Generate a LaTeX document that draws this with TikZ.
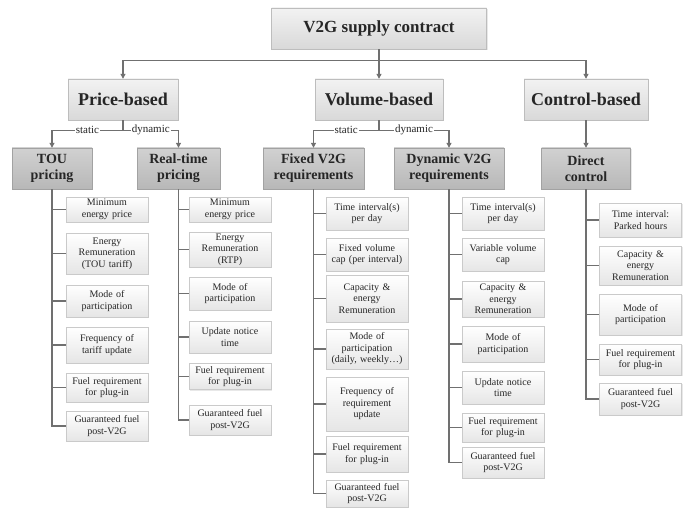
\documentclass[tikz,border=0pt]{standalone}
\usepackage{fontspec}
\setmainfont{Liberation Serif}
\usetikzlibrary{shadows,arrows.meta}

\definecolor{linegray}{HTML}{707070}
\definecolor{edgegray}{HTML}{BDBDBD}
\definecolor{darkedge}{HTML}{A2A2A2}
\definecolor{inkgray}{HTML}{262626}

\tikzset{
  softshadow/.style={drop shadow={shadow xshift=1pt,shadow yshift=-1.2pt,opacity=0.18}},
  root/.style={draw=edgegray, top color=white!95!black, bottom color=white!85!black,
    minimum height=41, text=inkgray, font=\bfseries\fontsize{17}{19}\selectfont, softshadow},
  kind/.style={root, font=\bfseries\fontsize{18}{20}\selectfont},
  scheme/.style={draw=darkedge, top color=white!82!black, bottom color=white!72!black,
    minimum height=41, inner sep=1pt, align=center, text=inkgray,
    font=\bfseries\fontsize{14}{16}\selectfont, softshadow},
  item/.style={draw=edgegray!80, top color=white, bottom color=white!90!black,
    text width=76, inner xsep=3, inner ysep=1, align=center, text=inkgray,
    font=\fontsize{10}{11.5}\selectfont, softshadow},
  conn/.style={draw=linegray, line width=1.1pt},
  arr/.style={conn, -{Triangle[width=5pt,length=5pt]}},
  lbl/.style={fill=white, inner sep=1pt, text=inkgray, font=\fontsize{11}{12}\selectfont}
}

\begin{document}
\begin{tikzpicture}[x=1pt,y=-1pt]
\useasboundingbox (0,0) rectangle (688,508);

\node[root, minimum width=215] (contract) at (379,28.5) {V2G supply contract};

\node[kind, minimum width=110] (price) at (123,99.5) {Price-based};
\node[kind, minimum width=128] (volume) at (379,99.5) {Volume-based};
\node[kind, minimum width=124] (control) at (586,99.5) {Control-based};

\node[scheme, minimum width=80] (tou) at (52,168.5) {TOU\\pricing};
\node[scheme, minimum width=83] (rtp) at (178.5,168.5) {Real-time\\pricing};
\node[scheme, minimum width=101] (fixed) at (313.5,168.5) {Fixed V2G\\requirements};
\node[scheme, minimum width=110] (dyn) at (449,168.5) {Dynamic V2G\\requirements};
\node[scheme, minimum width=89] (direct) at (586,168.5) {Direct\\control};

\node[item, minimum height=25] (tou1) at (107,209.5) {Minimum\\energy price};
\node[item, minimum height=41] (tou2) at (107,253.5) {Energy\\Remuneration\\(TOU tariff)};
\node[item, minimum height=32] (tou3) at (107,301) {Mode of\\participation};
\node[item, minimum height=36] (tou4) at (107,345) {Frequency of\\tariff update};
\node[item, minimum height=29] (tou5) at (107,387.5) {Fuel requirement\\for plug-in};
\node[item, minimum height=30] (tou6) at (107,426) {Guaranteed fuel\\post-V2G};

\node[item, minimum height=25] (rtp1) at (230,209.5) {Minimum\\energy price};
\node[item, minimum height=35] (rtp2) at (230,249.5) {Energy\\Remuneration\\(RTP)};
\node[item, minimum height=33] (rtp3) at (230,293.5) {Mode of\\participation};
\node[item, minimum height=32] (rtp4) at (230,337) {Update notice\\time};
\node[item, minimum height=26] (rtp5) at (230,376.5) {Fuel requirement\\for plug-in};
\node[item, minimum height=30] (rtp6) at (230,420) {Guaranteed fuel\\post-V2G};

\node[item, minimum height=33] (fix1) at (367,213.5) {Time interval(s)\\per day};
\node[item, minimum height=33] (fix2) at (367,254.5) {Fixed volume\\cap (per interval)};
\node[item, minimum height=47] (fix3) at (367,298.5) {Capacity \&\\energy\\Remuneration};
\node[item, minimum height=40] (fix4) at (367,349) {Mode of\\participation\\(daily, weekly…)};
\node[item, minimum height=54] (fix5) at (367,404) {Frequency of\\requirement\\update};
\node[item, minimum height=36] (fix6) at (367,454) {Fuel requirement\\for plug-in};
\node[item, minimum height=27] (fix7) at (367,493.5) {Guaranteed fuel\\post-V2G};

\node[item, minimum height=33] (dyn1) at (503,213.5) {Time interval(s)\\per day};
\node[item, minimum height=33] (dyn2) at (503,254.5) {Variable volume\\cap};
\node[item, minimum height=36] (dyn3) at (503,299) {Capacity \&\\energy\\Remuneration};
\node[item, minimum height=36] (dyn4) at (503,344) {Mode of\\participation};
\node[item, minimum height=33] (dyn5) at (503,387.5) {Update notice\\time};
\node[item, minimum height=29] (dyn6) at (503,427.5) {Fuel requirement\\for plug-in};
\node[item, minimum height=31] (dyn7) at (503,462.5) {Guaranteed fuel\\post-V2G};

\node[item, minimum height=34] (dir1) at (640.5,220) {Time interval:\\Parked hours};
\node[item, minimum height=39] (dir2) at (640.5,265.5) {Capacity \&\\energy\\Remuneration};
\node[item, minimum height=41] (dir3) at (640.5,314.5) {Mode of\\participation};
\node[item, minimum height=31] (dir4) at (640.5,359.5) {Fuel requirement\\for plug-in};
\node[item, minimum height=32] (dir5) at (640.5,399) {Guaranteed fuel\\post-V2G};

\draw[arr] (contract.south) -- (volume.north);
\draw[arr] (contract.south) -- ++(0,11) -| (price.north);
\draw[arr] (contract.south) -- ++(0,11) -| (control.north);

\draw[arr] (price.south) -- ++(0,10) -| node[lbl, pos=0.25] {static} (tou.north);
\draw[arr] (price.south) -- ++(0,10) -| node[lbl, pos=0.25] {dynamic} (rtp.north);
\draw[arr] (volume.south) -- ++(0,10) -| node[lbl, pos=0.25] {static} (fixed.north);
\draw[arr] (volume.south) -- ++(0,10) -| node[lbl, pos=0.25] {dynamic} (dyn.north);
\draw[arr] (control.south) -- (direct.north);

\draw[conn] (tou.south) |- (tou6.west)
  (tou.south |- tou1.west) -- (tou1.west) (tou.south |- tou2.west) -- (tou2.west)
  (tou.south |- tou3.west) -- (tou3.west) (tou.south |- tou4.west) -- (tou4.west)
  (tou.south |- tou5.west) -- (tou5.west);
\draw[conn] (rtp.south) |- (rtp6.west)
  (rtp.south |- rtp1.west) -- (rtp1.west) (rtp.south |- rtp2.west) -- (rtp2.west)
  (rtp.south |- rtp3.west) -- (rtp3.west) (rtp.south |- rtp4.west) -- (rtp4.west)
  (rtp.south |- rtp5.west) -- (rtp5.west);
\draw[conn] (fixed.south) |- (fix7.west)
  (fixed.south |- fix1.west) -- (fix1.west) (fixed.south |- fix2.west) -- (fix2.west)
  (fixed.south |- fix3.west) -- (fix3.west) (fixed.south |- fix4.west) -- (fix4.west)
  (fixed.south |- fix5.west) -- (fix5.west) (fixed.south |- fix6.west) -- (fix6.west);
\draw[conn] (dyn.south) |- (dyn7.west)
  (dyn.south |- dyn1.west) -- (dyn1.west) (dyn.south |- dyn2.west) -- (dyn2.west)
  (dyn.south |- dyn3.west) -- (dyn3.west) (dyn.south |- dyn4.west) -- (dyn4.west)
  (dyn.south |- dyn5.west) -- (dyn5.west) (dyn.south |- dyn6.west) -- (dyn6.west);
\draw[conn] (direct.south) |- (dir5.west)
  (direct.south |- dir1.west) -- (dir1.west) (direct.south |- dir2.west) -- (dir2.west)
  (direct.south |- dir3.west) -- (dir3.west) (direct.south |- dir4.west) -- (dir4.west);
\end{tikzpicture}
\end{document}
